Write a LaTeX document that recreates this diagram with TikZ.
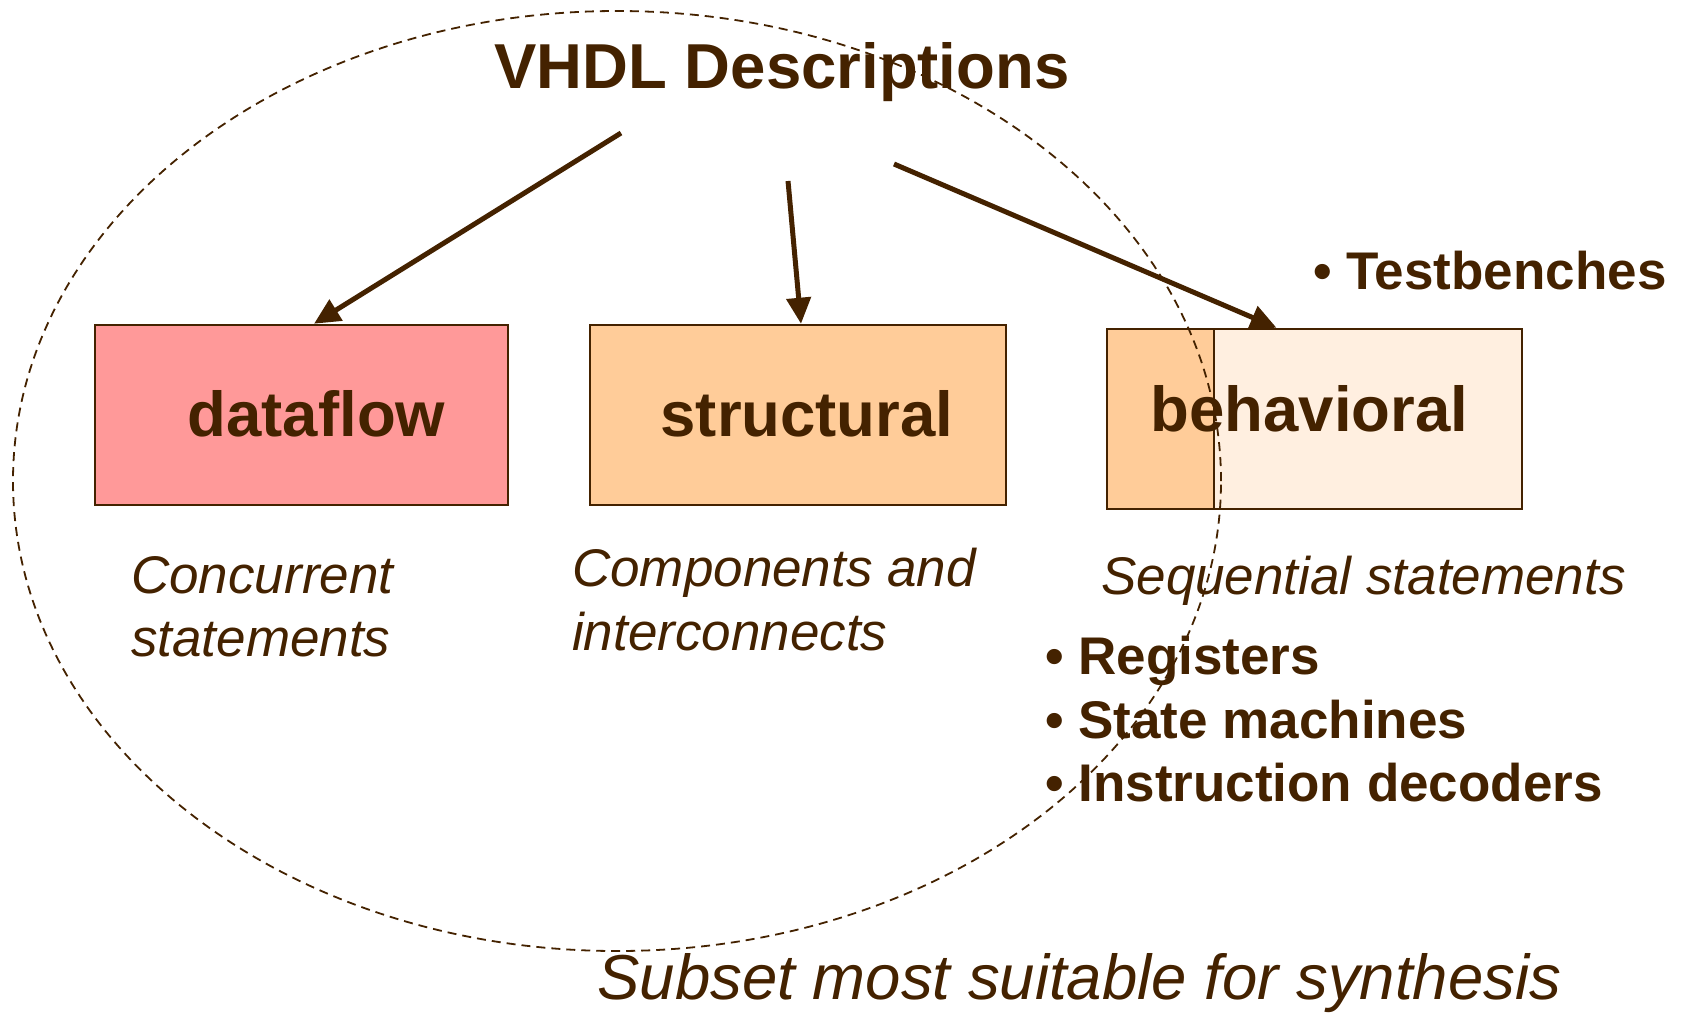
\documentclass[tikz,border=0pt]{standalone}
\usepackage{fontspec}
\setmainfont{Liberation Sans}
\usetikzlibrary{arrows.meta}
\definecolor{vhdlbrown}{HTML}{442200}
\definecolor{flowpink}{HTML}{FF9999}
\definecolor{structorange}{HTML}{FFCC99}
\definecolor{behavlight}{HTML}{FFEFE0}

\begin{document}
\begin{tikzpicture}[x=1pt, y=-1pt,
    box/.style={rectangle, draw=vhdlbrown, line width=2.5pt, minimum height=180pt, text=vhdlbrown, font=\fontsize{63.5}{70}\selectfont\bfseries},
    note/.style={text=vhdlbrown, inner sep=0pt, align=left, font=\fontsize{53}{63.5}\selectfont\itshape},
    bullets/.style={text=vhdlbrown, inner sep=0pt, align=left, font=\fontsize{53}{63.5}\selectfont\bfseries},
    feed/.style={draw=vhdlbrown, line width=5pt, -{Triangle[length=26pt, width=24pt]}}]
    \useasboundingbox (0,0) rectangle (1685,1013);
    \node[anchor=base, text=vhdlbrown, font=\fontsize{63.5}{70}\selectfont\bfseries] (title) at (782,88) {VHDL Descriptions};
    % the three kinds of description
    \node[box, fill=flowpink, minimum width=413pt, text depth=4pt] (dataflow) at (301.5,415) {\hspace*{30pt}dataflow};
    \node[box, fill=structorange, minimum width=416pt, text depth=4pt] (structural) at (798,415) {\hspace*{18pt}structural};
    \node[box, fill=behavlight, minimum width=415pt, text depth=22pt, path picture={
        \fill[structorange] (path picture bounding box.south west) rectangle ([xshift=107pt]path picture bounding box.north west);
        \draw[vhdlbrown, line width=2.5pt] ([xshift=107pt]path picture bounding box.south west) -- ([xshift=107pt]path picture bounding box.north west);
    }] (behavioral) at (1314.5,419) {\hspace*{-10pt}behavioral};
    \coordinate (d1) at (621,133);
    \coordinate (d2) at (788,181);
    \coordinate (d3) at (894,164);
    \draw[feed] (d1) -- ([xshift=12.5pt]dataflow.north);
    \draw[feed] (d2) -- ([xshift=3pt]structural.north);
    \draw[feed] (d3) -- ([xshift=-38pt]behavioral.north);
    \node[note, anchor=north west] (concnote) at (131,556) {Concurrent\\statements};
    \node[note, anchor=north west] (compnote) at (572,548) {Components and\\interconnects};
    \node[note, anchor=base west] (seqnote) at (1101,594) {Sequential statements};
    \node[bullets, anchor=base west] (testnote) at (1313,289) {• Testbenches};
    \node[bullets, anchor=north west] (seqlist) at (1045,636) {• Registers\\• State machines\\• Instruction decoders};
    % synthesis subset
    \draw[vhdlbrown, line width=1.8pt, dash pattern=on 9pt off 6pt] (617,481) ellipse [x radius=604pt, y radius=470pt];
    \node[anchor=base west, text=vhdlbrown, font=\fontsize{63.5}{70}\selectfont\itshape] (synthnote) at (594,999) {Subset most suitable for synthesis};
\end{tikzpicture}
\end{document}
